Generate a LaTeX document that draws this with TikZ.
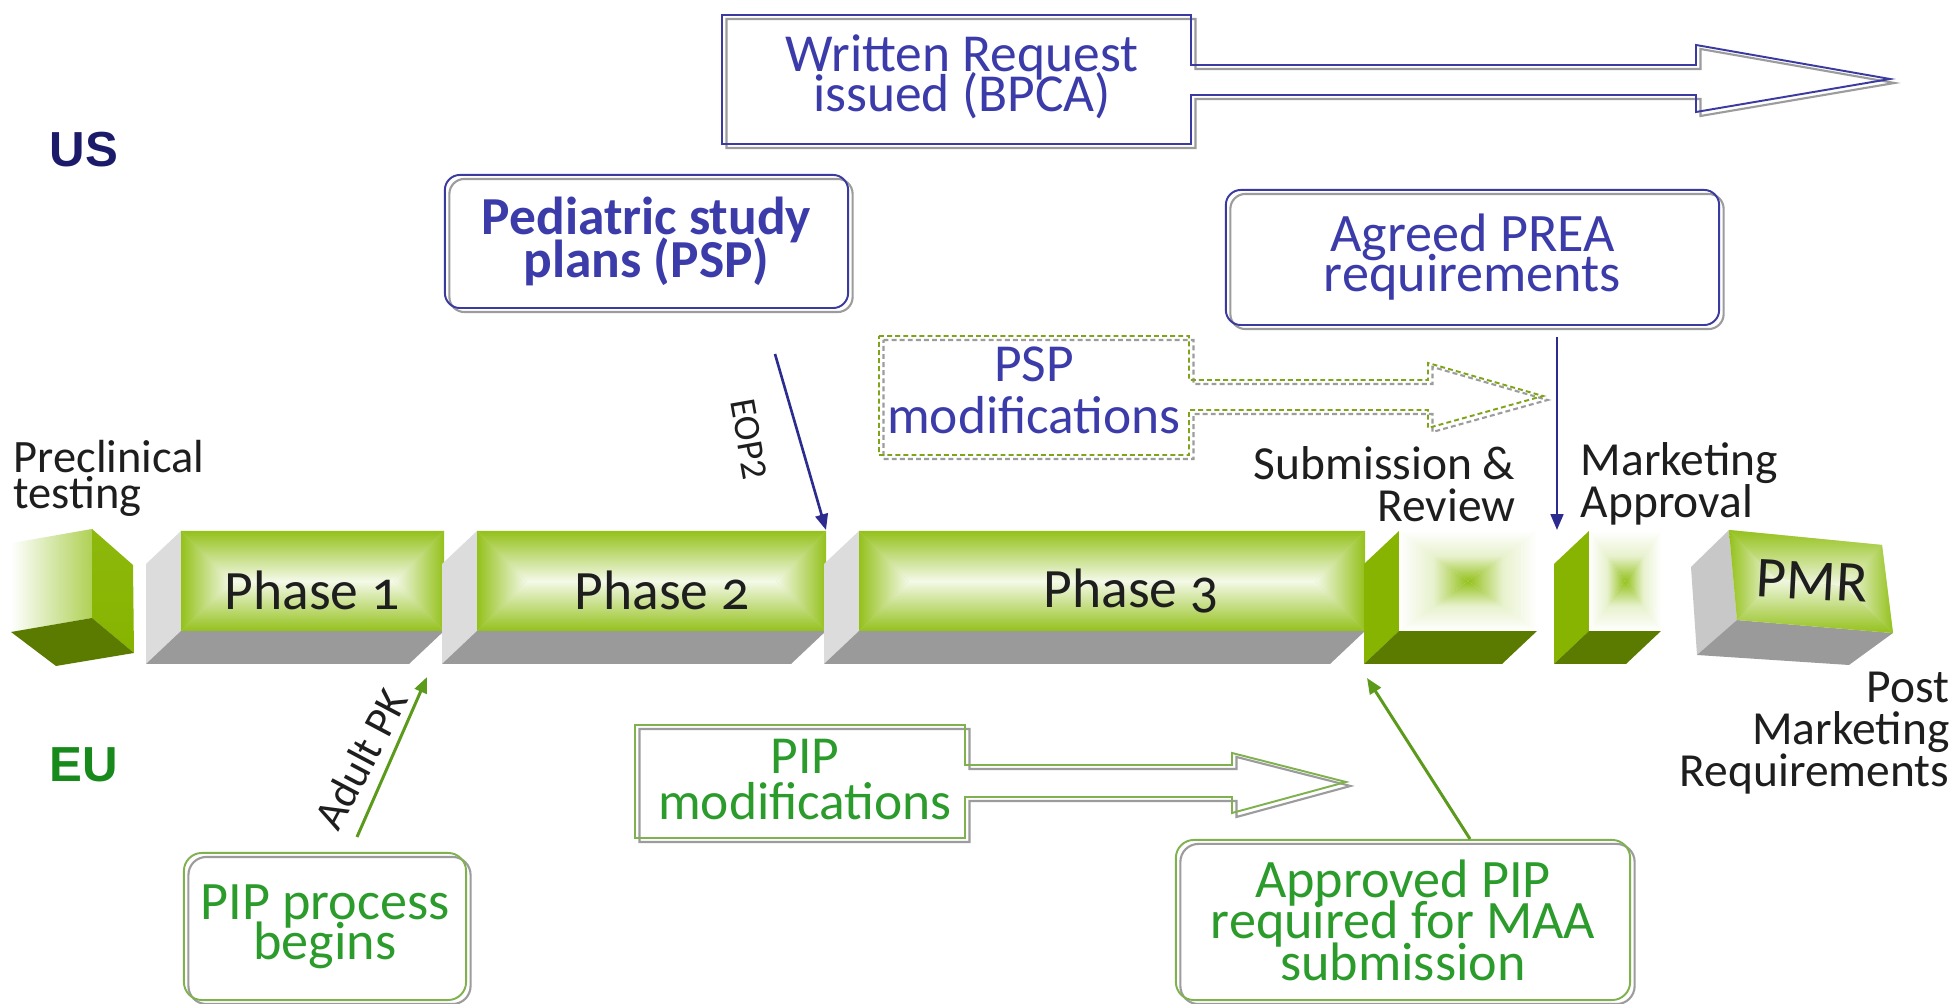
\documentclass[tikz,border=0pt]{standalone}
\usepackage{fontspec}
\setmainfont{Carlito}
\newfontfamily\arialf{Liberation Sans}
\newfontfamily\oldnum[Numbers=OldStyle]{Carlito}
\usetikzlibrary{arrows.meta}
\definecolor{phG}{HTML}{94C11C}
\definecolor{phW}{HTML}{F4F9E8}
\colorlet{phM}{phG!50!phW}
\definecolor{gL}{HTML}{DCDCDC}
\definecolor{gB}{HTML}{9A9A9A}
\definecolor{gLtwo}{HTML}{C8C8C8}
\definecolor{faceG}{HTML}{87B400}
\definecolor{darkG}{HTML}{5B7A00}
\definecolor{boxblue}{HTML}{3A3AA0}
\definecolor{txtblue}{HTML}{3B3BAA}
\definecolor{arrblue}{HTML}{2C2C90}
\definecolor{usblue}{HTML}{1B1B6A}
\definecolor{eugreen}{HTML}{178A1B}
\definecolor{txtgreen}{HTML}{2B9B2B}
\definecolor{boxgreen}{HTML}{7FB24E}
\definecolor{arrgreen}{HTML}{5C9A1C}
\definecolor{shadowgrey}{HTML}{9C9C9C}
\definecolor{txtblack}{HTML}{1E1E1E}
\newcommand\fs[2]{\fontsize{#1pt}{#2pt}\selectfont\lineskiplimit=-50pt\relax}
% rectangular glow: x1 y1 x2 y2 edge center mid
\newcommand\glowrect[7]{%
  \pgfmathsetmacro\gcy{(#2+#4)/2}%
  \pgfmathsetmacro\ghh{(#4-#2)/2}%
  \pgfmathsetmacro\gxa{#1+\ghh}%
  \pgfmathsetmacro\gxb{#3-\ghh}%
  \fill[#7] (#1,#2) rectangle (#3,#4);%
  \shade[top color=#5,bottom color=#6,middle color=#7] (#1,#2)--(#3,#2)--(\gxb,\gcy)--(\gxa,\gcy)--cycle;%
  \shade[top color=#6,bottom color=#5,middle color=#7] (#1,#4)--(#3,#4)--(\gxb,\gcy)--(\gxa,\gcy)--cycle;%
  \shade[left color=#5,right color=#6,middle color=#7] (#1,#2)--(\gxa,\gcy)--(#1,#4)--cycle;%
  \shade[left color=#6,right color=#5,middle color=#7] (#3,#2)--(\gxb,\gcy)--(#3,#4)--cycle;%
}
% square glow to centre point: x1 y1 x2 y2
\newcommand\sqglow[4]{%
  \pgfmathsetmacro\gcx{(#1+#3)/2}%
  \pgfmathsetmacro\gcy{(#2+#4)/2}%
  \fill[white] (#1,#2) rectangle (#3,#4);%
  \shade[top color=white,bottom color=phG,middle color=phG!22!white] (#1,#2)--(#3,#2)--(\gcx,\gcy)--cycle;%
  \shade[top color=phG,bottom color=white,middle color=phG!22!white] (#1,#4)--(#3,#4)--(\gcx,\gcy)--cycle;%
  \shade[left color=white,right color=phG,middle color=phG!22!white] (#1,#2)--(\gcx,\gcy)--(#1,#4)--cycle;%
  \shade[left color=phG,right color=white,middle color=phG!22!white] (#3,#2)--(\gcx,\gcy)--(#3,#4)--cycle;%
}
\newcommand\phaseblock[2]{%
  \fill[gL] (#1,531) -- (#1,631) -- ({#1-35},664) -- ({#1-35},564) -- cycle;%
  \fill[gB] ({#1-35},664) -- (#1,631) -- (#2,631) -- ({#2-35},664) -- cycle;%
  \glowrect{#1}{531}{#2}{631}{phG}{phW}{phM}%
}
\begin{document}
\begin{tikzpicture}[x=0.01cm,y=-0.01cm,
  txt/.style={inner sep=0pt, align=center},
  shadowline/.style={preaction={draw=shadowgrey, line width=0.6pt, transform canvas={xshift=0.045cm,yshift=-0.04cm}}},
  dshadowline/.style={preaction={draw=shadowgrey, line width=0.6pt, dash pattern=on 1.4pt off 0.9pt, transform canvas={xshift=0.045cm,yshift=-0.04cm}}},
  bluebox/.style={draw=boxblue, line width=0.55pt, rounded corners=0.15cm, shadowline, inner sep=0pt, align=center, text=txtblue},
  greenbox/.style={draw=boxgreen, line width=0.55pt, rounded corners=0.18cm, shadowline, inner sep=0pt, align=center, text=txtgreen},
  barrow/.style={draw=arrblue, line width=0.75pt, -{Triangle[length=4.5pt,width=3.6pt]}},
  garrow/.style={draw=arrgreen, line width=0.85pt, -{Triangle[length=4.5pt,width=3.6pt]}}
]
\fill[white] (0,0) rectangle (1959,1004);
\useasboundingbox (0,0) rectangle (1959,1004);

% ---- timeline blocks ----
% preclinical cube
\shade[left color=white, right color=phG!75!white]
  (12,543) -- (92,529) -- (92,618) -- (11,632) -- cycle;
\shade[top color=faceG!95!white, bottom color=faceG] (92,529) -- (133,565) -- (134,653) -- (92,618) -- cycle;
\fill[darkG] (11,632) -- (92,618) -- (134,653) -- (56,666) -- cycle;

\phaseblock{181}{444}
\phaseblock{477}{826}
\phaseblock{859}{1365}

% submission & review
\fill[faceG] (1399,531) -- (1399,631) -- (1364,664) -- (1364,564) -- cycle;
\fill[darkG] (1364,664) -- (1399,631) -- (1537,631) -- (1502,664) -- cycle;
\sqglow{1399}{531}{1537}{631}
% marketing approval
\fill[faceG] (1589,531) -- (1589,631) -- (1554,664) -- (1554,564) -- cycle;
\fill[darkG] (1554,664) -- (1589,631) -- (1661,631) -- (1626,664) -- cycle;
\sqglow{1589}{531}{1661}{631}
% PMR
\fill[gLtwo] (1691,567) -- (1729,530) -- (1737,620) -- (1697,655) -- cycle;
\fill[gB] (1697,655) -- (1737,620) -- (1893,633) -- (1849,665) -- cycle;
\fill[phM] (1729,530) -- (1882,545) -- (1893,633) -- (1737,620) -- cycle;
\shade[top color=phG, bottom color=phW, middle color=phM] (1729,530) -- (1882,545) -- (1845,587) -- (1775,578) -- cycle;
\shade[top color=phW, bottom color=phG, middle color=phM] (1737,620) -- (1893,633) -- (1845,587) -- (1775,578) -- cycle;
\shade[left color=phG, right color=phW, middle color=phM] (1729,530) -- (1775,578) -- (1737,620) -- cycle;
\shade[left color=phW, right color=phG, middle color=phM] (1882,545) -- (1845,587) -- (1893,633) -- cycle;

% phase labels
\node[txt, text=txtblack, font=\oldnum\fs{15.8}{16}] (ph1) at (312,590) {Phase 1};
\node[txt, text=txtblack, font=\oldnum\fs{15.8}{16}] (ph2) at (662,590) {Phase 2};
\node[txt, text=txtblack, font=\oldnum\fs{15.8}{16}] (ph3) at (1131,591) {Phase 3};
\node[txt, text=txtblack, font=\fs{16.5}{17}, rotate=-3] (pmr) at (1812,581) {PMR};

% ---- side labels ----
\node[txt, text=usblue, font=\arialf\bfseries\fs{14}{16}] (us) at (84,150) {US};
\node[txt, text=eugreen, font=\arialf\bfseries\fs{14}{16}] (eu) at (84,765) {EU};

\node[inner sep=0pt, align=left, anchor=west, text=txtblack, font=\fs{13.2}{10.2}] (precl) at (13,478) {Preclinical\\testing};
\node[inner sep=0pt, align=right, anchor=east, text=txtblack, font=\fs{13.5}{12}] (subm) at (1516,484) {Submission \&\\Review};
\node[inner sep=0pt, align=left, anchor=west, text=txtblack, font=\fs{13.5}{12}] (mkt) at (1580,484) {Marketing\\Approval};
\node[inner sep=0pt, align=right, anchor=east, text=txtblack, font=\fs{13.5}{12}] (post) at (1950,733) {Post\\Marketing\\Requirements};

% ---- US side ----
\draw[boxblue, line width=0.55pt, shadowline]
  (722,15) -- (1191,15) -- (1191,65) -- (1696,65) -- (1696,45) -- (1890,79)
  -- (1696,112) -- (1696,95) -- (1191,95) -- (1191,144) -- (722,144) -- cycle;
\node[txt, text=txtblue, font=\fs{15.2}{11.4}] (wr) at (962,77) {Written Request\\issued (BPCA)};

\node[bluebox, minimum width=4.03cm, minimum height=1.33cm, font=\bfseries\fs{15.2}{12.2}] (pspbox) at (646.5,241.5) {Pediatric study\\plans (PSP)};
\node[bluebox, minimum width=4.93cm, minimum height=1.35cm, font=\fs{15.4}{11.4}] (preabox) at (1472.5,257.5) {Agreed PREA\\requirements};

\draw[phG!85!black, line width=0.55pt, dash pattern=on 1.4pt off 0.9pt, dshadowline]
  (879,336) -- (1189,336) -- (1189,380) -- (1428,380) -- (1428,363) -- (1543,396)
  -- (1428,428) -- (1428,410) -- (1189,410) -- (1189,455) -- (879,455) -- cycle;
\node[txt, text=txtblue, font=\fs{15.2}{14.8}] (pspmod) at (1034,390) {PSP\\modifications};

\coordinate (eopS) at (775,354);
\coordinate (eopE) at (826,530);
\draw[barrow] (eopS) -- (eopE);
\node[txt, text=txtblack, font=\fs{10.6}{12}, rotate=-80] (eop) at (749,439) {EOP2};

\coordinate (preaS) at (1557,337);
\coordinate (preaE) at (1557,530);
\draw[barrow] (preaS) -- (preaE);

% ---- EU side ----
\draw[boxgreen, line width=0.55pt, shadowline]
  (635,725) -- (965,725) -- (965,765) -- (1232,765) -- (1232,753) -- (1346,782)
  -- (1232,813) -- (1232,797) -- (965,797) -- (965,838) -- (635,838) -- cycle;
\node[txt, text=txtgreen, font=\fs{15.2}{13.1}] (pipmod) at (805,780) {PIP\\modifications};

\node[greenbox, minimum width=2.82cm, minimum height=1.47cm, font=\fs{15.4}{11.4}] (pipbox) at (325,926.5) {PIP process\\begins};
\node[greenbox, minimum width=4.54cm, minimum height=1.60cm, font=\fs{15.4}{11.8}] (appbox) at (1403,920) {Approved PIP\\required for MAA\\submission};

\coordinate (pkS) at (357,837);
\coordinate (pkE) at (427,677);
\draw[garrow] (pkS) -- (pkE);
\node[txt, text=txtblack, font=\fs{12.4}{13}, rotate=62] (apk) at (361,759) {Adult PK};

\coordinate (mpS) at (1470,839);
\coordinate (mpE) at (1367,678);
\draw[garrow] (mpS) -- (mpE);
\end{tikzpicture}
\end{document}
